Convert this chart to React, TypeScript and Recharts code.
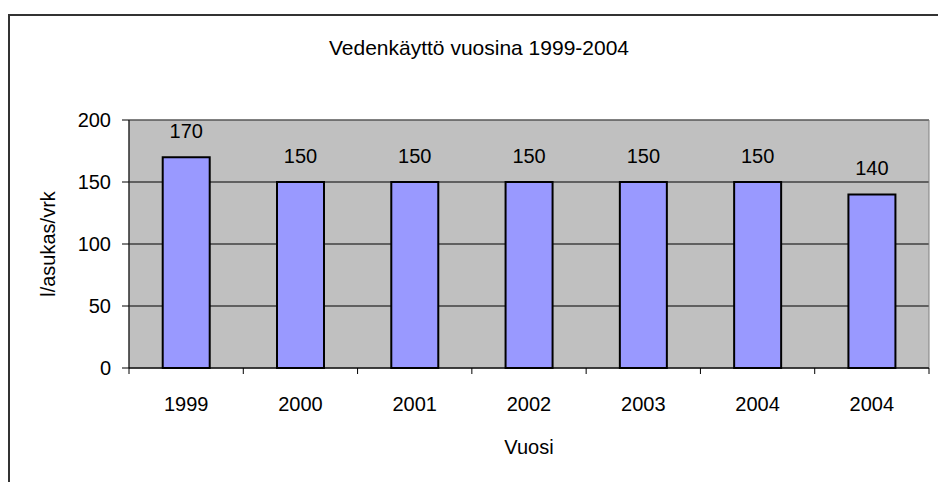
import React from 'react';
import { BarChart, Bar, XAxis, YAxis, CartesianGrid, LabelList, ReferenceArea } from 'recharts';

const years = ['1999', '2000', '2001', '2002', '2003', '2004', '2004'];
const usage = [170, 150, 150, 150, 150, 150, 140];
const yTicks = [0, 50, 100, 150, 200];

const data = years.map((year, i) => ({ year, value: usage[i] }));

const FONT = '"Liberation Sans", Arial, sans-serif';
const X_TICK_SIZE = 6;
const X_TICK_MARGIN = 23;

function YearTick(props: any) {
    const { x, y, payload, index } = props;
    const half = payload?.offset ?? 800 / years.length / 2;
    const axisY = y - X_TICK_SIZE - X_TICK_MARGIN;
    return (
        <g>
            <line x1={x - half} x2={x - half} y1={axisY} y2={axisY + X_TICK_SIZE} stroke="#000" />
            {index === years.length - 1 && (
                <line x1={x + half} x2={x + half} y1={axisY} y2={axisY + X_TICK_SIZE} stroke="#000" />
            )}
            <text x={x} y={y} dy="0.71em" textAnchor="middle" fill="#000" fontSize={20} fontFamily={FONT}>
                {payload.value}
            </text>
        </g>
    );
}

export default function App() {
    return (
        <>
            <style>{`body{margin:0;overflow:hidden}`}</style>
            <div
                style={{
                    position: 'absolute',
                    left: 8,
                    top: 14,
                    width: 928,
                    height: 466,
                    borderLeft: '2px solid #333',
                    borderTop: '2px solid #333',
                    overflow: 'hidden',
                    fontFamily: FONT,
                    background: '#fff',
                }}
            >
                <div
                    style={{
                        position: 'absolute',
                        left: 0,
                        top: 19,
                        width: 938,
                        textAlign: 'center',
                        fontSize: 21,
                        lineHeight: '26px',
                        color: '#000',
                    }}
                >
                    Vedenkäyttö vuosina 1999-2004
                </div>
                <BarChart
                    width={928}
                    height={466}
                    data={data}
                    margin={{ top: 104, right: 9, left: 0, bottom: 0 }}
                    barCategoryGap="29.5%"
                >
                    <CartesianGrid vertical={false} stroke="#000" fill="#C0C0C0" fillOpacity={1} />
                    <ReferenceArea y1={0} y2={200} fill="none" stroke="#808080" strokeWidth={1} />
                    <XAxis
                        dataKey="year"
                        height={114}
                        axisLine={{ stroke: '#000' }}
                        tickLine={false}
                        tickSize={X_TICK_SIZE}
                        tickMargin={X_TICK_MARGIN}
                        tick={<YearTick />}
                        interval={0}
                        label={{ value: 'Vuosi', position: 'insideBottom', offset: 28, fill: '#000', fontSize: 20, fontFamily: FONT }}
                    />
                    <YAxis
                        width={119}
                        domain={[0, 200]}
                        ticks={yTicks}
                        axisLine={{ stroke: '#000' }}
                        tickLine={{ stroke: '#000' }}
                        tickSize={7}
                        tickMargin={11}
                        tick={{ fill: '#000', fontSize: 20, fontFamily: FONT }}
                        label={{ value: 'l/asukas/vrk', angle: -90, position: 'center', dx: -22, fill: '#000', fontSize: 20, fontFamily: FONT }}
                    />
                    <Bar dataKey="value" fill="#9999FF" stroke="#000" strokeWidth={2} isAnimationActive={false}>
                        <LabelList dataKey="value" position="top" offset={19} fill="#000" fontSize={20} fontFamily={FONT} />
                    </Bar>
                </BarChart>
            </div>
        </>
    );
}
